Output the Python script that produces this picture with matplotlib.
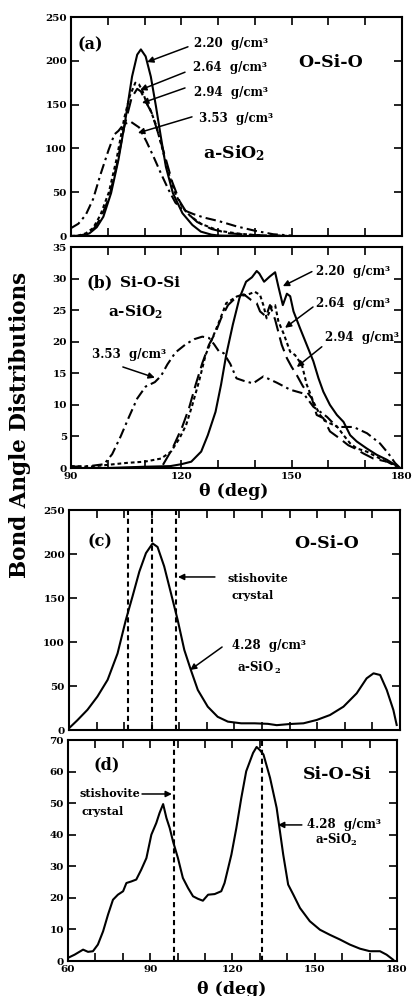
import matplotlib
matplotlib.use("Agg")
import matplotlib.pyplot as plt
from matplotlib.ticker import MultipleLocator

plt.rcParams['font.family'] = ['DejaVu Serif']
plt.rcParams['font.weight'] = 'bold'
plt.rcParams['mathtext.fontset'] = 'dejavuserif'

# ---------------- panel (a): O-Si-O, a-SiO2 at several densities ----------------
a_x_220 = [92, 93.3, 95, 97, 98.8, 100.9, 102.9, 104.8, 106.6, 108.0, 109.0, 110.3, 111.7, 113.1,
           114.4, 115.8, 117.7, 120.3, 123, 125.3, 128.2, 130.2, 135]
a_y_220 = [0, 0.5, 3, 10, 22, 49, 87, 133, 182, 207, 213, 205, 182, 148,
           114, 79, 49, 26, 12.6, 5, 1.5, 0.5, 0]
a_x_264 = [90, 92, 94, 96, 98, 100.3, 102.4, 104.5, 106, 107.5, 108.5, 109.5, 110.5, 111.5, 113,
           114.5, 116.5, 118.5, 120.4, 122.4, 125.3, 130.2, 135, 140, 150]
a_y_264 = [0, 0.5, 3, 9, 24, 50, 88, 135, 160, 175, 173, 165, 152, 145, 128,
           105, 72, 47, 32, 23, 14, 6, 3, 1, 0]
a_x_294 = [90, 92, 94, 96, 98, 100.3, 102.4, 104.5, 106.5, 108, 109, 110.5, 112, 113.5, 115.5,
           117.5, 119.5, 121.4, 124.3, 128.2, 133, 140, 150]
a_y_294 = [0, 0.3, 2, 7, 20, 43, 80, 125, 158, 168, 165, 152, 140, 120, 92,
           62, 40, 27, 16, 8, 3, 1, 0]
a_x_353 = [90, 92, 94, 96, 98, 100.2, 101.8, 102.9, 104.4, 106.4, 108.5, 110.5, 112.5, 114.5,
           116.5, 118.4, 120.4, 123.3, 126.2, 130.2, 135, 140, 145, 150]
a_y_353 = [9, 14, 24, 42, 70, 98, 116, 120, 128, 130, 124, 108, 90, 71,
           53, 38, 30, 25, 21, 17, 11, 6, 2, 0.5]

# ---------------- panel (b): Si-O-Si, a-SiO2 at several densities ----------------
b_x_220 = [90, 100, 110, 117, 120, 122.7, 125.4, 127.2, 129.3, 130.8, 132.2, 134.0, 135.8, 137.6,
           139.2, 140.5, 141.2, 142.5, 144, 145.5, 146.4, 147.6, 148.7, 149.6, 150.5, 152.3,
           154.1, 155.9, 157.3, 158.6, 160.4, 162.3, 164.1, 165.9, 167.7, 170.4, 173.1, 175.9,
           178.1, 179.5]
b_y_220 = [0, 0, 0.2, 0.3, 0.6, 1, 2.6, 5.2, 8.9, 13.2, 17.9, 22.7, 26.9, 29.5,
           30.2, 31.2, 30.8, 29.5, 30.3, 31.0, 28.7, 25.8, 27.6, 27.2, 24.8, 22.1,
           19.5, 16.9, 14.2, 12.1, 10, 8.4, 7.3, 5.2, 4.2, 3.1, 2.1, 1.3,
           0.5, 0]
b_x_264 = [90, 95, 100, 105, 110, 114.5, 117.2, 119.5, 121.3, 123, 124.8, 126.6, 128.4, 130.3,
           132.2, 135.2, 137.8, 140, 141.4, 142.3, 143.2, 144.6, 145.5, 146.4, 147.8, 149.6,
           150.9, 152.8, 154.1, 155.9, 157.7, 159.5, 162.3, 164.1, 165.9, 167.7, 170.4, 174,
           177.7, 179.5]
b_y_264 = [0.3, 0.2, 0.5, 0.8, 1.0, 1.5, 2.6, 4.7, 6.8, 10, 13.7, 17.9, 20.5, 23.2,
           26.1, 27.2, 27.4, 27.9, 27.4, 25.8, 23.7, 25.6, 25.8, 23.2, 21.3, 18.4,
           17.9, 16.3, 13.2, 10.5, 8.4, 7.3, 6.6, 5.2, 3.9, 3.1, 2.6, 1.5,
           0.5, 0]
b_x_294 = [115, 117.6, 120.3, 122.1, 123.9, 125.7, 127.5, 129.4, 130.8, 132.7, 135.2, 137, 139,
           140.5, 141.4, 143, 144.1, 145.5, 147.3, 148.7, 150, 151.4, 153, 154.1, 155.5, 156.8,
           158.6, 160.4, 163, 165.4, 167.2, 169.5, 172.2, 175.9, 178.1, 179.5]
b_y_294 = [0.5, 3.1, 6.6, 9.5, 13.2, 16.6, 19.5, 21.6, 23.7, 25.8, 27.2, 27.5, 26.6,
           26.1, 24.8, 24, 25.8, 23.5, 19.5, 17.4, 16, 14.7, 13, 12.1, 11, 8.4,
           7.9, 5.8, 4.7, 3.6, 3.1, 2.3, 1.5, 1, 0.5, 0]
b_x_353 = [90, 95, 99, 101.2, 103.5, 105.7, 108, 110.3, 112.8, 114.5, 116.2, 118.4, 121.2,
           123.5, 125.7, 127.5, 128.9, 130.3, 131.5, 133.3, 135, 137, 139.5, 142.3, 146,
           149.6, 153.2, 155.9, 159.6, 162.3, 166.8, 170.5, 174, 176.3, 178.1, 179.5]
b_y_353 = [0.2, 0.3, 0.6, 2.2, 5, 8, 11, 12.9, 13.6, 14.6, 16.4, 18.3, 19.6,
           20.4, 20.8, 20.6, 19.6, 18.4, 18.2, 16.5, 14.2, 13.8, 13.4, 14.5, 13.5,
           12.4, 11.8, 9.7, 8.1, 6.5, 6.5, 5.5, 3.9, 2.3, 0.8, 0]

# ---------------- panel (c): O-Si-O at 4.28 g/cm3 ----------------
c_x = [60, 63, 66.7, 70.3, 74, 77.6, 80.6, 83, 85.5, 87.9, 90.3, 92.1, 94.5, 97, 99.4, 101.8,
       104.2, 106.7, 110.3, 113.9, 117.6, 122.4, 127.3, 132.1, 135.3, 140.1, 145, 149.8,
       154.6, 159.5, 164.3, 167.9, 170.4, 172.8, 175.2, 177.6, 178.8]
c_y = [2, 11, 23, 38, 57, 87, 125, 151.5, 180, 201, 212, 208, 186, 155, 125, 91,
       68, 45.5, 26.5, 15, 9.5, 7.6, 7.6, 7, 5.5, 6.8, 7.6, 11.4,
       17, 26.5, 41.7, 58.7, 64.4, 62.5, 45.5, 22.7, 5.7]
c_stish = [81.3, 90.0, 98.7]

# ---------------- panel (d): Si-O-Si at 4.28 g/cm3 ----------------
d_x = [60, 62.4, 65.5, 67.3, 69.1, 70.9, 72.8, 74.6, 76.4, 78.2, 80.1, 81.3, 83.1, 84.9, 86.7,
       88.6, 90.4, 92.2, 93.4, 94.7, 95.9, 97.1, 98.3, 100.1, 101.9, 103.8, 105.6, 107.4,
       109.2, 111.1, 113.5, 115.9, 117.1, 119.6, 121.4, 123.2, 125, 127.5, 128.8, 130,
       131.3, 133.7, 136.1, 138.5, 140.3, 142.2, 144.6, 148.2, 151.9, 155.5, 159.2, 162.8,
       166.5, 170.1, 173.8, 176.2, 178.6]
d_y = [1, 2, 3.6, 2.9, 3.1, 5.2, 9.4, 14.7, 19.4, 21, 22.1, 24.7, 25.2, 25.8, 28.9,
       32.6, 40, 43.7, 46.9, 49.7, 45.3, 42.1, 37.9, 32.6, 26.3, 23.1, 20.5, 19.7,
       19.1, 21, 21.2, 22.1, 24.7, 33.7, 42.1, 51.6, 60.1, 65.9, 67.8, 66.8,
       65.4, 58, 48.5, 33.7, 24.2, 21, 16.8, 12.6, 9.9, 8.3, 6.8, 5.2,
       3.9, 3.1, 3.1, 2, 0.4]
d_stish = [98.7, 130.6]

W, H = 414, 996
fig = plt.figure(figsize=(W / 100, H / 100), dpi=100)


def box(l, t, r, b):
    return [l / W, 1 - b / H, (r - l) / W, (b - t) / H]


axa = fig.add_axes(box(71, 17, 402, 236))
axb = fig.add_axes(box(71, 247, 402, 468))
axc = fig.add_axes(box(69, 510, 400, 730))
axd = fig.add_axes(box(68, 740, 397, 961))

LW = 1.5
sty_220 = dict(color='black', lw=LW, ls='-')
sty_264 = dict(color='black', lw=LW, ls=(0, (1.8, 1.4)))
sty_294 = dict(color='black', lw=LW, ls=(0, (7, 3)))
sty_353 = dict(color='black', lw=LW, ls=(0, (5, 2, 1.2, 2)))

axa.plot(a_x_220, a_y_220, **sty_220)
axa.plot(a_x_264, a_y_264, **sty_264)
axa.plot(a_x_294, a_y_294, **sty_294)
axa.plot(a_x_353, a_y_353, **sty_353)

axb.plot(b_x_220, b_y_220, **sty_220)
axb.plot(b_x_264, b_y_264, **sty_264)
axb.plot(b_x_294, b_y_294, **sty_294)
axb.plot(b_x_353, b_y_353, **sty_353)

axc.plot(c_x, c_y, **sty_220)
for v in c_stish:
    axc.axvline(v, color='black', lw=1.5, ls=(0, (2.5, 1.8)))
axd.plot(d_x, d_y, **sty_220)
for v in d_stish:
    axd.axvline(v, color='black', lw=1.5, ls=(0, (2.5, 1.8)))

TICK_FS = 7.5
for ax, xl, yl, ystep in [(axa, (90, 180), (0, 250), 50), (axb, (90, 180), (0, 35), 5),
                          (axc, (60, 180), (0, 250), 50), (axd, (60, 180), (0, 70), 10)]:
    ax.set_xlim(*xl)
    ax.set_ylim(*yl)
    ax.yaxis.set_major_locator(MultipleLocator(ystep))
    ax.xaxis.set_major_locator(MultipleLocator(30))
    ax.xaxis.set_minor_locator(MultipleLocator(10))
    ax.tick_params(which='both', direction='in', top=True, right=True, length=6, width=1.2,
                   labelsize=TICK_FS, pad=3)
    for s in ax.spines.values():
        s.set_linewidth(1.5)
    for lab in ax.get_yticklabels() + ax.get_xticklabels():
        lab.set_fontweight('bold')

axa.tick_params(labelbottom=False)
axc.tick_params(labelbottom=False)

arw = dict(arrowstyle='-|>', color='black', lw=1.1, mutation_scale=9, shrinkA=0, shrinkB=0)
LFS = 8.5
BIG = 12.5


def label(ax, txt, head, tail, tx, ty, fs=LFS):
    ax.annotate('', xy=head, xytext=tail, arrowprops=arw)
    ax.text(tx, ty, txt, fontsize=fs, fontweight='bold', ha='left', va='center')


# panel (a) texts
axa.text(95.2, 218, '(a)', fontsize=11.5, fontweight='bold', ha='center', va='center')
axa.text(160.7, 198.6, 'O-Si-O', fontsize=BIG, fontweight='bold', ha='center', va='center')
axa.text(134.3, 94.7, r'a-SiO$_\mathbf{2}$', fontsize=BIG, fontweight='bold', ha='center', va='center')
label(axa, '2.20  g/cm³', (110.7, 198.6), (121.8, 216), 123.4, 220)
label(axa, '2.64  g/cm³', (108.8, 166.7), (121, 187), 123.2, 192)
label(axa, '2.94  g/cm³', (109.3, 151.8), (121, 169), 123.4, 164)
label(axa, '3.53  g/cm³', (108.2, 117.6), (122.9, 136), 124.8, 134.7)

# panel (b) texts
axb.text(97.9, 29.3, '(b)', fontsize=11.5, fontweight='bold', ha='center', va='center')
axb.text(111.5, 29.3, 'Si-O-Si', fontsize=11, fontweight='bold', ha='center', va='center')
axb.text(107.5, 24.6, r'a-SiO$_\mathbf{2}$', fontsize=11, fontweight='bold', ha='center', va='center')
label(axb, '2.20  g/cm³', (147.6, 28.8), (155.5, 31.1), 156.6, 31.1)
label(axb, '2.64  g/cm³', (148.2, 22.2), (155.8, 25.5), 156.6, 26.1)
label(axb, '2.94  g/cm³', (151.4, 16.0), (158.2, 19.2), 159.1, 20.6)
axb.annotate('', xy=(112.8, 14.3), xytext=(104.1, 16.0), arrowprops=arw)
axb.text(95.7, 17.9, '3.53  g/cm³', fontsize=LFS, fontweight='bold', ha='left', va='center')

# panel (c) texts
axc.text(71.2, 213.6, '(c)', fontsize=11.5, fontweight='bold', ha='center', va='center')
axc.text(153.5, 212.5, 'O-Si-O', fontsize=BIG, fontweight='bold', ha='center', va='center')
axc.annotate('', xy=(99.5, 173.9), xytext=(112.9, 173.9), arrowprops=arw)
axc.text(128.5, 172.7, 'stishovite', fontsize=8, fontweight='bold', ha='center', va='center')
axc.text(126.5, 153.4, 'crystal', fontsize=8, fontweight='bold', ha='center', va='center')
axc.annotate('', xy=(103.9, 68.2), xytext=(115.5, 94.3), arrowprops=arw)
axc.text(119.1, 95.5, '4.28  g/cm³', fontsize=LFS, fontweight='bold', ha='left', va='center')
axc.text(120.9, 70.5, r'a-SiO$\,_\mathbf{2}$', fontsize=LFS, fontweight='bold', ha='left', va='center')

# panel (d) texts
axd.text(74.2, 62.1, '(d)', fontsize=11.5, fontweight='bold', ha='center', va='center')
axd.text(158.1, 59.2, 'Si-O-Si', fontsize=BIG, fontweight='bold', ha='center', va='center')
axd.annotate('', xy=(97.9, 52.9), xytext=(87, 52.9), arrowprops=arw)
axd.text(75.3, 52.9, 'stishovite', fontsize=8, fontweight='bold', ha='center', va='center')
axd.text(72.8, 47.2, 'crystal', fontsize=8, fontweight='bold', ha='center', va='center')
axd.annotate('', xy=(136.6, 43.1), xytext=(145.3, 43.1), arrowprops=arw)
axd.text(147.2, 43.1, '4.28  g/cm³', fontsize=LFS, fontweight='bold', ha='left', va='center')
axd.text(150.1, 38.3, r'a-SiO$_\mathbf{2}$', fontsize=LFS, fontweight='bold', ha='left', va='center')

# axis labels
fig.text(20 / W, 1 - 425 / H, 'Bond Angle Distributions', rotation=90, fontsize=15.5,
         fontweight='bold', ha='center', va='center')
fig.text(234 / W, 1 - 492 / H, 'θ (deg)', fontsize=12.5, fontweight='bold', ha='center', va='center')
fig.text(232 / W, 1 - 989 / H, 'θ (deg)', fontsize=12.5, fontweight='bold', ha='center', va='center')

fig.savefig('out.png', dpi=100, facecolor='white')
